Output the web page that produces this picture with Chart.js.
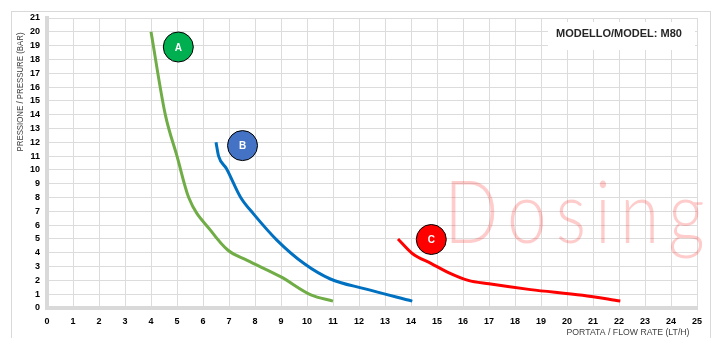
<!DOCTYPE html>
<html>
<head>
<meta charset="utf-8">
<script src="https://cdn.jsdelivr.net/npm/chart.js@4"></script>
<style>
  html, body { margin: 0; padding: 0; background: #fff; }
  #grafico { display: block; }
</style>
</head>
<body>
<canvas id="grafico" width="713" height="338"></canvas>
<script>
// curve A (green)
const flowA = [4.0, 4.55, 5.0, 5.45, 6.3, 6.95, 7.7, 9.0, 10.15, 11.0];
const pressA = [20, 14, 11, 8.0, 5.6, 4.2, 3.45, 2.25, 0.95, 0.5];
// curve B (blue)
const flowB = [6.5, 6.6, 6.9, 7.45, 7.95, 8.85, 9.9, 10.9, 12.2, 14.05];
const pressB = [12, 11.0, 10.1, 8.0, 6.8, 4.9, 3.2, 2.1, 1.4, 0.5];
// curve C (red)
const flowC = [13.5, 14.05, 14.8, 15.4, 16.2, 17.0, 18.6, 20.6, 22.05];
const pressC = [5.0, 3.95, 3.2, 2.6, 2.0, 1.75, 1.33, 0.92, 0.5];

// etichette cerchiate
const markerLabels = ['A', 'B', 'C'];
const markerFlow = [5.05, 7.52, 14.78];
const markerPress = [18.9, 11.76, 4.96];
const markerColors = ['#00b050', '#4472c4', '#ff0000'];

const xTicks = [0, 25];
const yTicks = [0, 21];

const modelText = 'MODELLO/MODEL: M80';
const watermark = 'Dosing';
const yTitle = 'PRESSIONE / PRESSURE (BAR)';
const xTitle = 'PORTATA / FLOW RATE (LT/H)';

function toPoints(xs, ys) {
    return xs.map((x, i) => ({ x: x, y: ys[i] }));
}

function lineSet(xs, ys, color) {
    return {
        data: toPoints(xs, ys),
        showLine: true,
        borderColor: color,
        borderWidth: 3,
        pointRadius: 0,
        cubicInterpolationMode: 'monotone',
        fill: false
    };
}

// Disegna testi extra, watermark e box del modello
const extras = {
    id: 'extras',
    beforeDatasetsDraw(chart) {
        const ctx = chart.ctx;
        const x = chart.scales.x, y = chart.scales.y;
        ctx.save();
        // watermark (stretta in orizzontale)
        ctx.save();
        ctx.translate(x.getPixelForValue(15.47) - 5, y.getPixelForValue(4.68));
        ctx.scale(0.82, 1);
        ctx.font = '300 87px Lato, "Open Sans", sans-serif';
        ctx.fillStyle = 'rgba(255, 0, 0, 0.2)';
        ctx.letterSpacing = '11px';
        ctx.textBaseline = 'alphabetic';
        ctx.textAlign = 'left';
        ctx.fillText(watermark, 0, 0);
        ctx.restore();
        // box modello
        ctx.fillStyle = '#fff';
        ctx.fillRect(548, 22, 147, 28);
        ctx.fillStyle = '#262626';
        ctx.font = 'bold 11px "Liberation Sans", sans-serif';
        ctx.textAlign = 'center';
        ctx.textBaseline = 'middle';
        ctx.fillText(modelText, 619, 34, 126);
        // titoli assi
        ctx.fillStyle = '#404040';
        ctx.font = '9px "Liberation Sans", sans-serif';
        ctx.fillText(xTitle, 628, 333, 123);
        ctx.translate(21, 92);
        ctx.rotate(-Math.PI / 2);
        ctx.fillText(yTitle, 0, 0, 119);
        ctx.restore();
    },
    afterDatasetsDraw(chart) {
        const ctx = chart.ctx;
        const meta = chart.getDatasetMeta(3);
        ctx.save();
        ctx.fillStyle = '#fff';
        ctx.font = 'bold 10px "Liberation Sans", sans-serif';
        ctx.textAlign = 'center';
        ctx.textBaseline = 'middle';
        meta.data.forEach((pt, i) => {
            ctx.fillText(markerLabels[i], pt.x, pt.y + 1);
        });
        ctx.restore();
    },
    afterDraw(chart) {
        const ctx = chart.ctx;
        ctx.save();
        ctx.strokeStyle = '#d9d9d9';
        ctx.lineWidth = 1;
        ctx.strokeRect(11.5, 11.5, 699, 330);
        ctx.restore();
    }
};

const chart = new Chart(document.getElementById('grafico').getContext('2d'), {
    type: 'scatter',
    data: {
        datasets: [
            lineSet(flowA, pressA, '#70ad47'),
            lineSet(flowB, pressB, '#0070c0'),
            lineSet(flowC, pressC, '#ff0000'),
            {
                data: toPoints(markerFlow, markerPress),
                showLine: false,
                pointRadius: 15,
                pointBackgroundColor: markerColors,
                pointBorderColor: '#000',
                pointBorderWidth: 1
            }
        ]
    },
    options: {
        responsive: false,
        animation: false,
        layout: { padding: { left: 0, top: 18, right: 16, bottom: 0 } },
        plugins: {
            legend: { display: false },
            tooltip: { enabled: false }
        },
        scales: {
            x: {
                type: 'linear',
                min: xTicks[0],
                max: xTicks[1],
                afterFit(scale) { scale.height = 30; },
                ticks: {
                    stepSize: 1,
                    padding: 8,
                    color: '#000',
                    font: { family: '"Liberation Sans", sans-serif', size: 9, weight: 'bold' }
                },
                grid: { color: '#dcdcdc', lineWidth: 1, drawTicks: false },
                border: { color: '#d9d9d9', width: 4 }
            },
            y: {
                type: 'linear',
                min: yTicks[0],
                max: yTicks[1],
                afterFit(scale) { scale.width = 47; },
                ticks: {
                    stepSize: 1,
                    padding: 7,
                    color: '#000',
                    font: { family: '"Liberation Sans", sans-serif', size: 9, weight: 'bold' }
                },
                grid: { color: '#dcdcdc', lineWidth: 1, drawTicks: false },
                border: { color: '#d9d9d9', width: 4 }
            }
        }
    },
    plugins: [extras]
});
</script>
</body>
</html>
